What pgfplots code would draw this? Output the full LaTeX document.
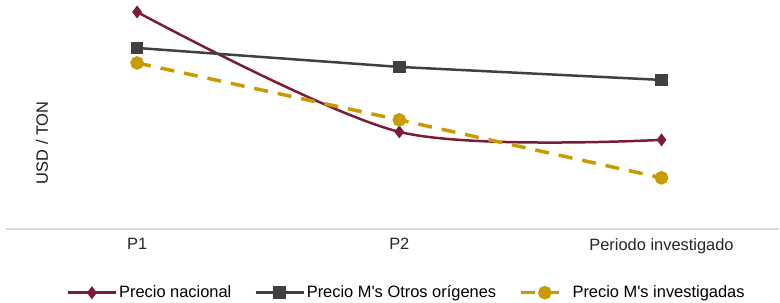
\documentclass[border=0pt]{standalone}
\usepackage{fontspec}
\setmainfont{Liberation Sans}
\usepackage{pgfplots}
\pgfplotsset{compat=1.18}
\definecolor{cred}{RGB}{122,28,56}
\definecolor{cgray}{RGB}{64,64,64}
\definecolor{cgold}{RGB}{201,155,0}
\definecolor{caxis}{RGB}{217,217,217}
\newcommand{\fs}{\fontsize{16.5}{19}\selectfont}
\begin{document}
\fs
\begin{tikzpicture}
\begin{axis}[
  scale only axis, width=774bp, height=229bp,
  xmin=-0.5, xmax=2.449, ymin=0, ymax=229,
  axis x line=bottom, axis y line=none,
  x axis line style={draw=caxis, line width=1.5bp, -},
  xtick={0,1,2}, xticklabels={P1,P2,Periodo investigado},
  major tick length=0, ytick=\empty,
  xticklabel style={font=\fs, text=black!85, yshift=-4bp},
  clip=false,
  legend columns=3,
  legend style={draw=none, at={(axis description cs:0.5,0)}, anchor=center, xshift=14bp, yshift=-64bp, font=\fs,
    /tikz/every even column/.append style={column sep=21bp}, inner sep=0pt},
  legend image code/.code={\draw[mark repeat=2,mark phase=2,#1] plot coordinates {(0bp,0bp) (24bp,0bp) (48bp,0bp)};},
]
\addplot[cred, line width=2.5bp, smooth, mark=diamond*, mark size=4.5bp, mark options={solid}] coordinates {(0,217) (1,97) (2,89)};
\addlegendentry{Precio nacional}
\addplot[cgray, line width=2.5bp, mark=square*, mark size=5bp] coordinates {(0,181) (1,162) (2,149)};
\addlegendentry{Precio M\textquotesingle s Otros orígenes}
\addplot[cgold, line width=3.5bp, dash pattern=on 14bp off 10bp, mark=*, mark size=5bp, mark options={solid}] coordinates {(0,166) (1,109) (2,51)};
\addlegendentry{Precio M\textquotesingle s investigadas}
\node[rotate=90, anchor=center, font=\fs, text=black!90] at (axis description cs:0.0465,0.376) {USD / TON};
\end{axis}
\path (current axis.south west) ++(-6bp,-74bp) rectangle (current axis.north east);
\end{tikzpicture}
\end{document}
